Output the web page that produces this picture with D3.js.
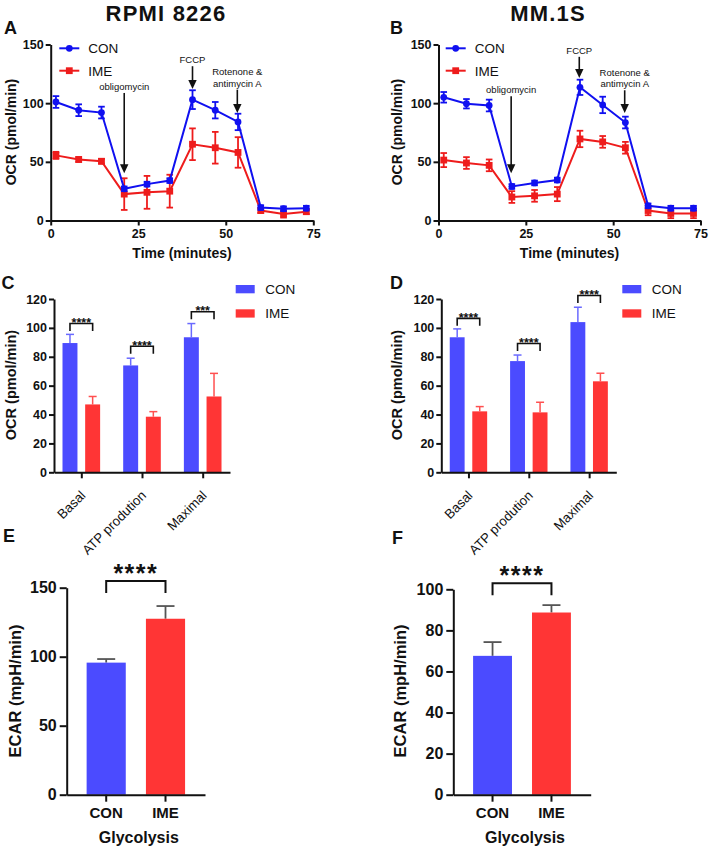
<!DOCTYPE html>
<html><head><meta charset="utf-8">
<script src="https://cdn.jsdelivr.net/npm/d3@7"></script>
<style>
body{margin:0;background:#fff;}
svg{display:block;font-family:"Liberation Sans",Arial,sans-serif;}
</style></head>
<body><svg id="c" width="709" height="852"></svg>
<script>
// ---------- DATA ----------
const times = [1.5, 8, 14.5, 21, 27.5, 34, 40.5, 47, 53.5, 60, 66.5, 73];
const rpmiCon    = [101, 94, 92, 27, 31, 34, 103, 94, 84, 11, 10, 10.5];
const rpmiConErr = [5, 5, 5, 2, 2, 2, 8, 7, 7, 2, 2, 2];
const rpmiIme    = [55.5, 52, 50.5, 22.5, 24, 25, 65, 62, 58, 8.5, 5.5, 7.5];
const rpmiImeErr = [3, 2, 2, 13.5, 14, 14, 13.5, 13.5, 13, 2, 3, 2];
const mm1sCon    = [105, 99.5, 98, 29, 32, 34.5, 113.5, 98.5, 83.5, 12.5, 10.5, 10.5];
const mm1sConErr = [4.5, 4, 5, 2, 2, 2, 6.5, 7, 5, 2, 2, 2];
const mm1sIme    = [51.5, 49, 47, 20, 21, 22.5, 69.5, 67, 62, 8.5, 6, 6];
const mm1sImeErr = [6, 5, 5, 5, 5, 6, 7, 5, 5, 4, 4, 4];
const timeTicks = [0, 25, 50, 75];
const ocrTicks = [0, 50, 100, 150];

// injections: label lines, time, arrow tail value, arrow tip value
const rpmiInj = [
  {lines:["obligomycin"], t:21, tail:108.7, tip:40.3},
  {lines:["FCCP"], t:40.5, tail:131.5, tip:112},
  {lines:["Rotenone &","antimycin A"], t:53.3, tail:111.5, tip:91.6}
];
const mm1sInj = [
  {lines:["obligomycin"], t:20.8, tail:105.8, tip:40.3},
  {lines:["FCCP"], t:40.3, tail:139.5, tip:121.5},
  {lines:["Rotenone &","antimycin A"], t:53.3, tail:111, tip:91.6}
];

const mitoCats = ["Basal", "ATP prodution", "Maximal"];
const groups = ["CON", "IME"];
const rpmiBarCon = [89.5, 74, 93.5];
const rpmiBarConErr = [6, 5, 9.5];
const rpmiBarIme = [47, 38.5, 52.5];
const rpmiBarImeErr = [5.5, 3.5, 16];
const rpmiSig = ["****", "****", "***"];
const rpmiSigLevel = [103, 87.3, 111.2];
const mm1sBarCon = [93.5, 77, 104];
const mm1sBarConErr = [5.8, 4.2, 10.3];
const mm1sBarIme = [42.2, 41.5, 63];
const mm1sBarImeErr = [3.3, 7, 5.6];
const mm1sSig = ["****", "****", "****"];
const mm1sSigLevel = [106.6, 89.2, 122.4];
const barTicks = [0, 20, 40, 60, 80, 100, 120];

const ecarRpmi = [95.7, 127.5];
const ecarRpmiErr = [2.6, 9.2];
const ecarRpmiSig = {label:"****", level:154.9};
const ecarRpmiTicks = [0, 50, 100, 150];
const ecarMm1s = [67.6, 88.7];
const ecarMm1sErr = [6.7, 3.6];
const ecarMm1sSig = {label:"****", level:103};
const ecarMm1sTicks = [0, 20, 40, 60, 80, 100];

const BLUE = "#1010f0", RED = "#ee1c1c";
const BARBLUE = "#4b4bff", BARRED = "#ff3535";

// ---------- DRAW ----------
const svg = d3.select("#c");

function styleAxis(g, fs){
  g.select(".domain").attr("stroke","#111").attr("stroke-width",2);
  g.selectAll(".tick line").attr("stroke","#111").attr("stroke-width",2);
  g.selectAll(".tick text").attr("fill","#111").attr("font-weight","bold")
    .attr("font-size",fs).attr("font-family","Liberation Sans, Arial, sans-serif");
}

function text(x,y,s,opt){
  const t = svg.append("text").attr("x",x).attr("y",y).text(s)
    .attr("fill","#111");
  for(const k in (opt||{})) t.attr(k,opt[k]);
  return t;
}

function linePanel(cfg){
  const x = d3.scaleLinear().domain([0,75]).range(cfg.xr);
  const y = d3.scaleLinear().domain([0,150]).range(cfg.yr);
  const g = svg.append("g");
  g.append("g").attr("transform",`translate(0,${cfg.yr[0]})`)
    .call(d3.axisBottom(x).tickValues(timeTicks).tickSize(5).tickSizeOuter(0).tickPadding(4))
    .call(a=>styleAxis(a,12.5));
  g.append("g").attr("transform",`translate(${cfg.xr[0]},0)`)
    .call(d3.axisLeft(y).tickValues(ocrTicks).tickSize(5).tickSizeOuter(0).tickPadding(2))
    .call(a=>styleAxis(a,12.5));
  const series = [
    {v:cfg.con, e:cfg.conErr, c:BLUE, m:"circle"},
    {v:cfg.ime, e:cfg.imeErr, c:RED, m:"square"}
  ];
  series.slice().reverse().forEach(s=>{
    const pts = times.map((t,i)=>({t, v:s.v[i], e:s.e[i]}));
    const eb = g.append("g").attr("stroke",s.c).attr("stroke-width",1.8);
    pts.forEach(p=>{
      eb.append("line").attr("x1",x(p.t)).attr("x2",x(p.t)).attr("y1",y(p.v-p.e)).attr("y2",y(p.v+p.e));
      [p.v-p.e,p.v+p.e].forEach(vv=>eb.append("line").attr("x1",x(p.t)-3.3).attr("x2",x(p.t)+3.3).attr("y1",y(vv)).attr("y2",y(vv)));
    });
    g.append("path").datum(pts).attr("fill","none").attr("stroke",s.c).attr("stroke-width",2)
      .attr("d",d3.line().x(p=>x(p.t)).y(p=>y(p.v)));
    pts.forEach(p=>{
      if(s.m==="circle") g.append("circle").attr("cx",x(p.t)).attr("cy",y(p.v)).attr("r",3.4).attr("fill",s.c);
      else g.append("rect").attr("x",x(p.t)-3.4).attr("y",y(p.v)-3.4).attr("width",6.8).attr("height",6.8).attr("fill",s.c);
    });
  });
  cfg.inj.forEach(a=>{
    const ax = x(a.t), y0 = y(a.tail), y1 = y(a.tip);
    g.append("line").attr("x1",ax).attr("x2",ax).attr("y1",y0).attr("y2",y1-7).attr("stroke","#111").attr("stroke-width",1.6);
    g.append("path").attr("d",`M${ax-4.2},${y1-9}L${ax+4.2},${y1-9}L${ax},${y1}Z`).attr("fill","#111");
    a.lines.forEach((l,i)=>{
      text(ax, y0-3-(a.lines.length-1-i)*11.3, l, {"text-anchor":"middle","font-size":9.5});
    });
  });
  const lx = cfg.legX;
  [{n:"CON",c:BLUE,m:"circle",yy:48.3},{n:"IME",c:RED,m:"square",yy:70.7}].forEach(L=>{
    g.append("line").attr("x1",lx).attr("x2",lx+20).attr("y1",L.yy).attr("y2",L.yy).attr("stroke",L.c).attr("stroke-width",2);
    if(L.m==="circle") g.append("circle").attr("cx",lx+10).attr("cy",L.yy).attr("r",3.4).attr("fill",L.c);
    else g.append("rect").attr("x",lx+6.6).attr("y",L.yy-3.4).attr("width",6.8).attr("height",6.8).attr("fill",L.c);
    text(lx+29, L.yy+4.8, L.n, {"font-size":13.5});
  });
  const xm = (cfg.xr[0]+cfg.xr[1])/2;
  text(xm, 258, "Time (minutes)", {"text-anchor":"middle","font-size":14,"font-weight":"bold"});
  text(0,0,"OCR (pmol/min)",{"text-anchor":"middle","font-size":14,"font-weight":"bold",
    transform:`translate(${cfg.ylabX},${132}) rotate(-90)`});
}

function groupedBarPanel(cfg){
  const x0 = d3.scaleBand().domain(mitoCats).range(cfg.xr).paddingInner(0.38).paddingOuter(0.14);
  const x1 = d3.scaleBand().domain(groups).range([0,x0.bandwidth()]).paddingInner(0.34);
  const y = d3.scaleLinear().domain([0,120]).range([472.3,299]);
  const g = svg.append("g");
  const vals = {CON:cfg.con, IME:cfg.ime}, errs = {CON:cfg.conErr, IME:cfg.imeErr};
  const cols = {CON:BARBLUE, IME:BARRED}, ecol = {CON:"#6a6aff", IME:"#ff5050"};
  mitoCats.forEach((c,i)=>{
    groups.forEach(gr=>{
      const bx = x0(c)+x1(gr), v = vals[gr][i], e = errs[gr][i];
      const cx = bx + x1.bandwidth()/2;
      g.append("line").attr("x1",cx).attr("x2",cx).attr("y1",y(v)).attr("y2",y(v+e)).attr("stroke",ecol[gr]).attr("stroke-width",1.5);
      g.append("line").attr("x1",cx-4).attr("x2",cx+4).attr("y1",y(v+e)).attr("y2",y(v+e)).attr("stroke",ecol[gr]).attr("stroke-width",1.5);
      g.append("rect").attr("x",bx).attr("y",y(v)).attr("width",x1.bandwidth()).attr("height",y(0)-y(v)).attr("fill",cols[gr]);
    });
    const xa = x0(c)+x1("CON")+x1.bandwidth()/2, xb = x0(c)+x1("IME")+x1.bandwidth()/2;
    const yb = y(cfg.sigLevel[i]);
    g.append("path").attr("d",`M${xa},${yb+7.5}V${yb}H${xb}V${yb+7.5}`).attr("fill","none").attr("stroke","#111").attr("stroke-width",1.6);
    text((xa+xb)/2, yb+3.5, cfg.sig[i], {"text-anchor":"middle","font-size":12.5,"font-weight":"bold"});
  });
  const xa = d3.axisBottom(d3.scalePoint().domain(mitoCats).range(cfg.xr).padding(0.45)).tickSize(6).tickSizeOuter(0).tickFormat("");
  const ax = g.append("g").attr("transform",`translate(0,${y(0)})`).call(xa).call(a=>styleAxis(a,11));
  ax.selectAll(".tick").append("text").attr("x",4.5).attr("y",24)
    .attr("transform","rotate(-45 4.5 24)").attr("text-anchor","end").attr("fill","#111")
    .attr("font-size",13.3).attr("font-weight","normal").text(d=>d);
  g.append("g").attr("transform",`translate(${cfg.xr[0]},0)`)
    .call(d3.axisLeft(y).tickValues(barTicks).tickSize(5).tickSizeOuter(0).tickPadding(2))
    .call(a=>styleAxis(a,12.5));
  [{n:"CON",c:BARBLUE,yy:285},{n:"IME",c:BARRED,yy:309.3}].forEach(L=>{
    g.append("rect").attr("x",cfg.legX).attr("y",L.yy).attr("width",19).attr("height",8.3).attr("fill",L.c);
    text(cfg.legX+29.5, L.yy+9, L.n, {"font-size":13.5});
  });
  text(0,0,"OCR (pmol/min)",{"text-anchor":"middle","font-size":14.5,"font-weight":"bold",
    transform:`translate(${cfg.ylabX},${385}) rotate(-90)`});
}

function ecarPanel(cfg){
  const x = d3.scaleBand().domain(groups).range(cfg.xr).paddingInner(0.34).paddingOuter(0.336);
  const y = d3.scaleLinear().domain(cfg.dom).range([794.7, cfg.ytop]);
  const g = svg.append("g");
  const cols = [BARBLUE, BARRED];
  groups.forEach((gr,i)=>{
    const v = cfg.vals[i], e = cfg.errs[i], cx = x(gr)+x.bandwidth()/2;
    g.append("line").attr("x1",cx).attr("x2",cx).attr("y1",y(v)).attr("y2",y(v+e)).attr("stroke","#555").attr("stroke-width",1.8);
    g.append("line").attr("x1",cx-9).attr("x2",cx+9).attr("y1",y(v+e)).attr("y2",y(v+e)).attr("stroke","#555").attr("stroke-width",1.8);
    g.append("rect").attr("x",x(gr)).attr("y",y(v)).attr("width",x.bandwidth()).attr("height",y(0)-y(v)).attr("fill",cols[i]);
  });
  g.append("g").attr("transform",`translate(0,${y(0)})`)
    .call(d3.axisBottom(x).tickSize(7).tickSizeOuter(0).tickPadding(6))
    .call(a=>styleAxis(a,15));
  g.append("g").attr("transform",`translate(${cfg.xr[0]},0)`)
    .call(d3.axisLeft(y).tickValues(cfg.ticks).tickSize(7).tickSizeOuter(0).tickPadding(3))
    .call(a=>styleAxis(a,16));
  const xa = x("CON")+x.bandwidth()/2, xb = x("IME")+x.bandwidth()/2, yb = y(cfg.sig.level);
  g.append("path").attr("d",`M${xa},${yb+12}V${yb}H${xb}V${yb+12}`).attr("fill","none").attr("stroke","#111").attr("stroke-width",2);
  text((xa+xb)/2, yb+1, cfg.sig.label, {"text-anchor":"middle","font-size":25,"font-weight":"bold","letter-spacing":1.5});
  text((cfg.xr[0]+cfg.xr[1])/2+3, 843, "Glycolysis", {"text-anchor":"middle","font-size":16,"font-weight":"bold"});
  text(0,0,"ECAR (mpH/min)",{"text-anchor":"middle","font-size":16.5,"font-weight":"bold",
    transform:`translate(${cfg.ylabX},${691}) rotate(-90)`});
}

text(166, 21, "RPMI 8226", {"text-anchor":"middle","font-size":22,"font-weight":"bold","letter-spacing":1.2});
text(548, 21, "MM.1S", {"text-anchor":"middle","font-size":22,"font-weight":"bold","letter-spacing":1.2});
[["A",4,33.5],["B",390,33.5],["C",1.5,288.5],["D",390,288.5],["E",3,541.5],["F",392,543.5]].forEach(l=>
  text(l[1],l[2],l[0],{"font-size":18,"font-weight":"bold"}));

linePanel({xr:[50.7,313.3], yr:[220.5,44.5], con:rpmiCon, conErr:rpmiConErr, ime:rpmiIme, imeErr:rpmiImeErr, inj:rpmiInj, legX:59.3, ylabX:16});
linePanel({xr:[438.5,700.5], yr:[220.5,44.5], con:mm1sCon, conErr:mm1sConErr, ime:mm1sIme, imeErr:mm1sImeErr, inj:mm1sInj, legX:445.7, ylabX:402});
groupedBarPanel({xr:[54,230], con:rpmiBarCon, conErr:rpmiBarConErr, ime:rpmiBarIme, imeErr:rpmiBarImeErr, sig:rpmiSig, sigLevel:rpmiSigLevel, legX:235.7, ylabX:16});
groupedBarPanel({xr:[441.3,616.3], con:mm1sBarCon, conErr:mm1sBarConErr, ime:mm1sBarIme, imeErr:mm1sBarImeErr, sig:mm1sSig, sigLevel:mm1sSigLevel, legX:622.3, ylabX:402});
ecarPanel({xr:[66.7,205], dom:[0,150], ytop:587.7, vals:ecarRpmi, errs:ecarRpmiErr, sig:ecarRpmiSig, ticks:ecarRpmiTicks, ylabX:21});
ecarPanel({xr:[453.3,590.7], dom:[0,100], ytop:589.3, vals:ecarMm1s, errs:ecarMm1sErr, sig:ecarMm1sSig, ticks:ecarMm1sTicks, ylabX:406});
</script></body></html>
